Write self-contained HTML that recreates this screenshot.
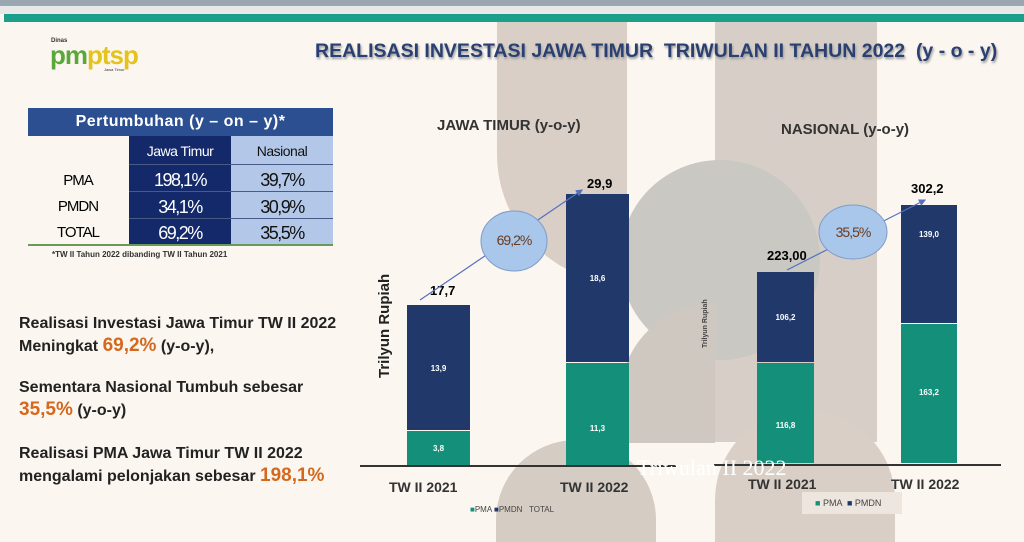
<!DOCTYPE html>
<html><head><meta charset="utf-8"><style>
*{margin:0;padding:0;box-sizing:border-box}
body{width:1024px;height:542px;overflow:hidden;background:#fbf6ef;font-family:"Liberation Sans",sans-serif;position:relative}
.a{position:absolute}
.t{position:absolute;white-space:nowrap}
.b{font-weight:bold}
</style></head><body>
<div class="a" style="left:0;top:0;width:1024px;height:6px;background:#9aa7b0"></div>
<div class="a" style="left:0;top:6px;width:1024px;height:8px;background:#e8e8e8"></div>
<div class="a" style="left:4px;top:14px;width:1020px;height:8px;background:#1aa08a"></div>
<!-- decorative shapes -->
<div class="a" style="left:497px;top:22px;width:130px;height:262px;background:#d9cfc6;border-radius:0 0 0 130px"></div>
<div class="a" style="left:715px;top:22px;width:162px;height:420px;background:#d7cfc7"></div>
<div class="a" style="left:620px;top:160px;width:200px;height:200px;background:#c9c8c2;border-radius:50%"></div>
<div class="a" style="left:620px;top:303px;width:95px;height:140px;background:#cfc8c0;border-radius:95px 0 0 0"></div>
<div class="a" style="left:496px;top:440px;width:160px;height:102px;background:#d5ccc3;border-radius:80px 80px 0 0"></div>
<div class="a" style="left:715px;top:410px;width:180px;height:132px;background:#d9cfc6;border-radius:90px 90px 0 0"></div>
<!-- logo -->
<div class="t b" style="left:51px;top:38px;font-size:6px;color:#333">Dinas</div>
<div class="t b" style="left:50px;top:40px;font-size:26px;color:#5aa83a;letter-spacing:-1px">pm<span style="color:#e6c21c">ptsp</span></div>
<div class="t" style="left:104px;top:67px;font-size:4px;color:#333">Jawa Timur</div>
<div class="t b" style="left:315px;top:40px;font-size:19.5px;color:#2a3f72;text-shadow:1px 2px 2px #999">REALISASI INVESTASI JAWA TIMUR&nbsp; TRIWULAN II TAHUN 2022&nbsp; (y - o - y)</div>
<!-- table -->
<div class="a" style="left:28px;top:108px;width:305px;height:28px;background:#2b4f90"></div>
<div class="t b" style="left:28px;top:113px;width:305px;text-align:center;font-size:16px;color:#fff;letter-spacing:0.5px">Pertumbuhan (y – on – y)*</div>
<div class="a" style="left:129px;top:136px;width:102px;height:109px;background:#13296a"></div>
<div class="a" style="left:231px;top:136px;width:102px;height:109px;background:#b3c8e8"></div>
<div class="a" style="left:129px;top:164px;width:204px;height:1px;background:#4a5a88"></div>
<div class="a" style="left:129px;top:191px;width:204px;height:1px;background:#4a5a88"></div>
<div class="a" style="left:129px;top:218px;width:204px;height:1px;background:#4a5a88"></div>
<div class="a" style="left:28px;top:244px;width:305px;height:2px;background:#6a9a5a"></div>
<div class="t" style="left:129px;top:143px;width:102px;text-align:center;font-size:14px;color:#fff;letter-spacing:-0.5px">Jawa Timur</div>
<div class="t" style="left:231px;top:143px;width:102px;text-align:center;font-size:14px;color:#111;letter-spacing:-0.5px">Nasional</div>
<div class="t" style="left:40px;top:172px;width:76px;text-align:center;font-size:15px;letter-spacing:-1px">PMA</div>
<div class="t" style="left:40px;top:198px;width:76px;text-align:center;font-size:15px;letter-spacing:-1px">PMDN</div>
<div class="t" style="left:40px;top:224px;width:76px;text-align:center;font-size:15px;letter-spacing:-1px">TOTAL</div>
<div class="t" style="left:129px;top:170px;width:102px;text-align:center;font-size:18px;color:#fff;letter-spacing:-1.5px">198,1%</div>
<div class="t" style="left:129px;top:197px;width:102px;text-align:center;font-size:18px;color:#fff;letter-spacing:-1.5px">34,1%</div>
<div class="t" style="left:129px;top:223px;width:102px;text-align:center;font-size:18px;color:#fff;letter-spacing:-1.5px">69,2%</div>
<div class="t" style="left:231px;top:170px;width:102px;text-align:center;font-size:18px;color:#111;letter-spacing:-1.5px">39,7%</div>
<div class="t" style="left:231px;top:197px;width:102px;text-align:center;font-size:18px;color:#111;letter-spacing:-1.5px">30,9%</div>
<div class="t" style="left:231px;top:223px;width:102px;text-align:center;font-size:18px;color:#111;letter-spacing:-1.5px">35,5%</div>
<div class="t b" style="left:52px;top:250px;font-size:8px;color:#333">*TW II Tahun 2022 dibanding TW II Tahun 2021</div>
<!-- left paragraphs -->
<div class="t b" style="left:19px;top:313px;font-size:16px;color:#222;line-height:22px">Realisasi Investasi Jawa Timur TW II 2022<br>Meningkat <span style="color:#d4681e;font-size:19px">69,2%</span> (y-o-y),</div>
<div class="t b" style="left:19px;top:377px;font-size:16px;color:#222;line-height:22px">Sementara Nasional Tumbuh sebesar<br><span style="color:#d4681e;font-size:19px">35,5%</span> (y-o-y)</div>
<div class="t b" style="left:19px;top:443px;font-size:16px;color:#222;line-height:22px">Realisasi PMA Jawa Timur TW II 2022<br>mengalami pelonjakan sebesar <span style="color:#d4681e;font-size:19px">198,1%</span></div>
<!-- charts -->
<div class="t b" style="left:437px;top:117px;font-size:15px;color:#333">JAWA TIMUR (y-o-y)</div>
<div class="t b" style="left:781px;top:121px;font-size:15px;color:#333">NASIONAL (y-o-y)</div>
<div class="t b" style="left:376px;top:378px;font-size:15px;color:#222;transform:rotate(-90deg);transform-origin:0 0">Trilyun Rupiah</div>
<div class="t b" style="left:702px;top:348px;font-size:7px;color:#444;transform:rotate(-90deg);transform-origin:0 0">Trilyun Rupiah</div>
<!-- bars -->
<div class="a" style="left:407px;top:305px;width:63px;height:125px;background:#21386a"></div>
<div class="a" style="left:407px;top:431px;width:63px;height:34px;background:#14907a"></div>
<div class="a" style="left:566px;top:194px;width:63px;height:168px;background:#21386a"></div>
<div class="a" style="left:566px;top:363px;width:63px;height:102px;background:#14907a"></div>
<div class="a" style="left:757px;top:272px;width:57px;height:90px;background:#21386a"></div>
<div class="a" style="left:757px;top:363px;width:57px;height:100px;background:#14907a"></div>
<div class="a" style="left:901px;top:205px;width:56px;height:118px;background:#21386a"></div>
<div class="a" style="left:901px;top:324px;width:56px;height:139px;background:#14907a"></div>
<div class="a" style="left:360px;top:465px;width:316px;height:1.5px;background:#333"></div>
<div class="a" style="left:714px;top:464px;width:287px;height:1.5px;background:#333"></div>
<div class="t b" style="left:407px;top:364px;width:63px;text-align:center;font-size:8px;color:#fff">13,9</div>
<div class="t b" style="left:407px;top:444px;width:63px;text-align:center;font-size:8px;color:#fff">3,8</div>
<div class="t b" style="left:566px;top:274px;width:63px;text-align:center;font-size:8px;color:#fff">18,6</div>
<div class="t b" style="left:566px;top:424px;width:63px;text-align:center;font-size:8px;color:#fff">11,3</div>
<div class="t b" style="left:757px;top:313px;width:57px;text-align:center;font-size:8px;color:#fff">106,2</div>
<div class="t b" style="left:757px;top:421px;width:57px;text-align:center;font-size:8px;color:#fff">116,8</div>
<div class="t b" style="left:901px;top:230px;width:56px;text-align:center;font-size:8px;color:#fff">139,0</div>
<div class="t b" style="left:901px;top:388px;width:56px;text-align:center;font-size:8px;color:#fff">163,2</div>
<div class="t b" style="left:430px;top:283px;font-size:13px">17,7</div>
<div class="t b" style="left:587px;top:176px;font-size:13px">29,9</div>
<div class="t b" style="left:767px;top:248px;font-size:13px">223,00</div>
<div class="t b" style="left:911px;top:181px;font-size:13px">302,2</div>
<svg class="a" style="left:0;top:0" width="1024" height="542">
<defs><marker id="m" markerWidth="6" markerHeight="6" refX="5" refY="3" orient="auto"><path d="M0,0L6,3L0,6z" fill="#5570c0"/></marker></defs>
<line x1="420" y1="300" x2="582" y2="190" stroke="#5570c0" stroke-width="1.2" marker-end="url(#m)"/>
<line x1="787" y1="270" x2="925" y2="200" stroke="#5570c0" stroke-width="1.2" marker-end="url(#m)"/>
<ellipse cx="514" cy="241" rx="33" ry="30" fill="#a9c7eb" stroke="#7e9cc8"/>
<ellipse cx="853" cy="232" rx="34" ry="27" fill="#a9c7eb" stroke="#7e9cc8"/>
</svg>
<div class="t" style="left:481px;top:232px;width:66px;text-align:center;font-size:14px;color:#6b3a1e;letter-spacing:-1px">69,2%</div>
<div class="t" style="left:819px;top:224px;width:68px;text-align:center;font-size:14px;color:#6b3a1e;letter-spacing:-1px">35,5%</div>
<div class="t" style="left:637px;top:455px;font-family:'Liberation Serif',serif;font-size:22px;color:#fff">Triwulan II 2022</div>
<div class="t b" style="left:389px;top:479px;font-size:14px;color:#333">TW II 2021</div>
<div class="t b" style="left:560px;top:479px;font-size:14px;color:#333">TW II 2022</div>
<div class="t b" style="left:748px;top:476px;font-size:14px;color:#333">TW II 2021</div>
<div class="t b" style="left:891px;top:476px;font-size:14px;color:#333">TW II 2022</div>
<div class="t" style="left:470px;top:505px;font-size:8px;color:#444"><span style="color:#14907a">■</span>PMA <span style="color:#21386a">■</span>PMDN &nbsp;&nbsp;TOTAL</div>
<div class="a" style="left:802px;top:492px;width:100px;height:22px;background:#ece6df"></div>
<div class="t" style="left:815px;top:498px;font-size:9px;color:#444"><span style="color:#14907a">■</span> PMA &nbsp;<span style="color:#21386a">■</span> PMDN</div>
</body></html>
